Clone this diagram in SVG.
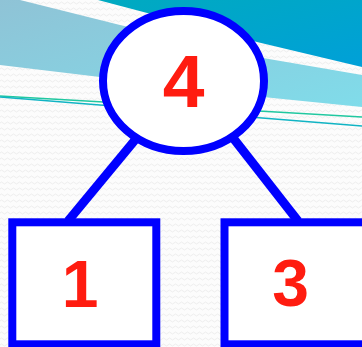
<svg xmlns="http://www.w3.org/2000/svg" width="362" height="347" viewBox="0 0 362 347">
  <defs>
    <pattern id="tex" width="6" height="6" patternUnits="userSpaceOnUse">
      <rect width="6" height="6" fill="#fcfcfc"/>
      <path d="M0 3 Q1.5 1 3 3 T6 3" fill="none" stroke="#eeeeee" stroke-width="1"/>
    </pattern>
    <linearGradient id="dark" x1="0" y1="0" x2="1" y2="1">
      <stop offset="0" stop-color="#00aac0"/>
      <stop offset="1" stop-color="#00a0d8"/>
    </linearGradient>
    <linearGradient id="light" x1="0" y1="0" x2="1" y2="1">
      <stop offset="0" stop-color="#8fc3d6"/>
      <stop offset="1" stop-color="#80dcea"/>
    </linearGradient>
  </defs>
  <style>
    .node { fill: #ffffff; stroke: #0000ff; stroke-width: 8; }
    .edge { stroke: #0000ff; stroke-width: 9; fill: none; }
    .lbl { font-family: "Liberation Sans", Arial, sans-serif; font-weight: bold; fill: #ff1c10; text-anchor: middle; }
  </style>

  <!-- background -->
  <rect x="0" y="0" width="362" height="347" fill="url(#tex)"/>
  <path d="M98 0 L257 42 L362 67 L362 0 Z" fill="url(#dark)"/>
  <path d="M20 0 L120 25 L263 58 L362 75 L362 107 L263 97 L100 77 L0 65 L0 0 Z" fill="url(#light)"/>
  <line x1="0" y1="96" x2="362" y2="117" stroke="#20c8a0" stroke-width="1.6"/>
  <line x1="0" y1="97" x2="362" y2="126" stroke="#10b4c4" stroke-width="1.6"/>

  <g id="connectors">
    <line class="edge" x1="140" y1="134" x2="68" y2="221"/>
    <line class="edge" x1="230" y1="134" x2="298" y2="221"/>
  </g>

  <g id="node-4">
    <ellipse class="node" cx="183.5" cy="81" rx="80.5" ry="70"/>
    <text class="lbl" x="183.5" y="107" font-size="75">4</text>
  </g>

  <g id="node-1">
    <rect class="node" x="12.3" y="222.3" width="144" height="122"/>
    <text class="lbl" x="80" y="307" font-size="66">1</text>
  </g>

  <g id="node-3">
    <rect class="node" x="224.5" y="222.3" width="150" height="122"/>
    <text class="lbl" x="290.5" y="306" font-size="66">3</text>
  </g>
</svg>
